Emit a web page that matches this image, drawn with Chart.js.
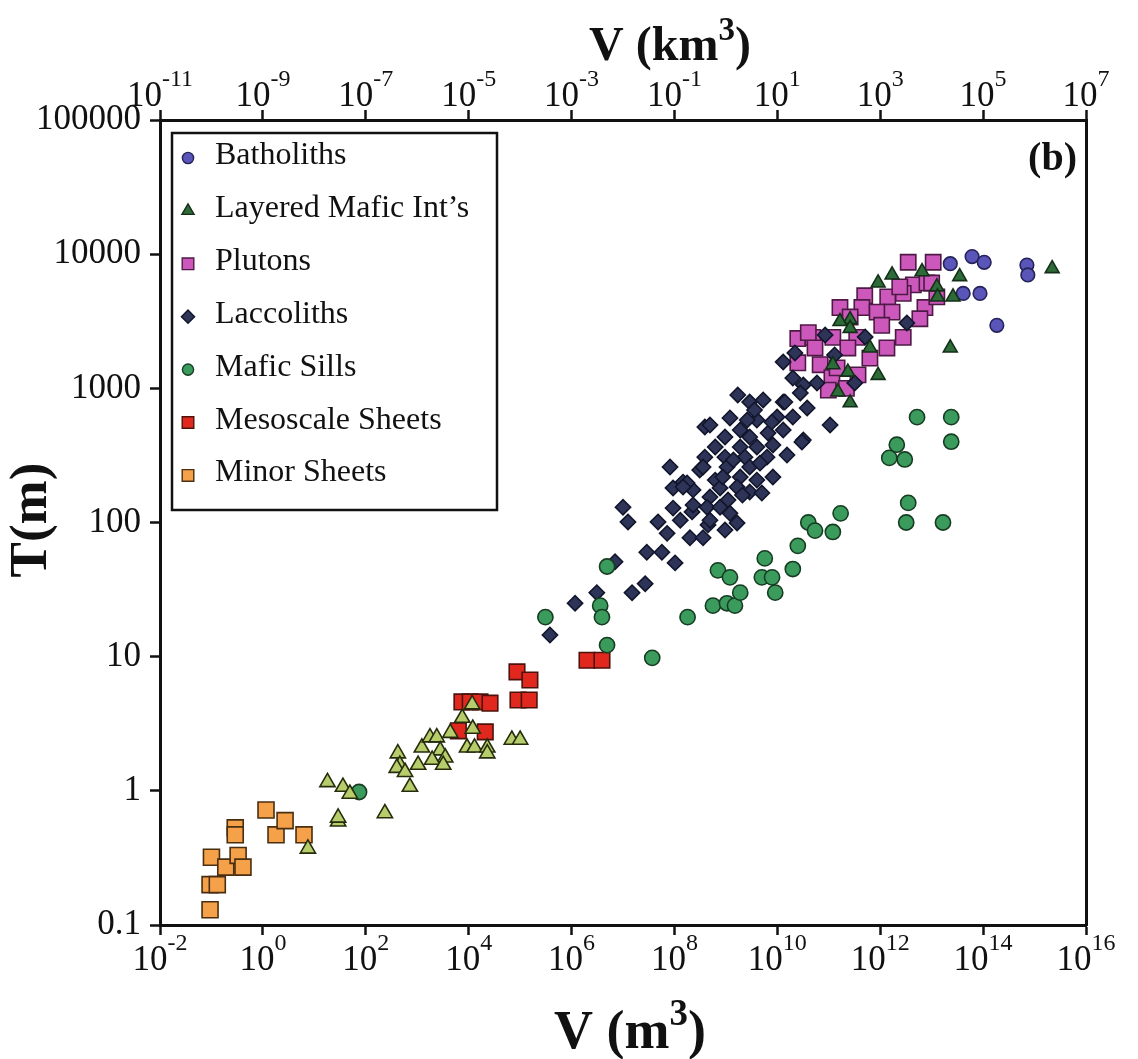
<!DOCTYPE html>
<html>
<head>
<meta charset="utf-8">
<title>T vs V</title>
<script src="https://cdn.jsdelivr.net/npm/chart.js@4.4.1/dist/chart.umd.min.js"></script>
<style>
  html, body { margin: 0; padding: 0; background: #fff; }
  #wrap { width: 1138px; height: 1059px; }
</style>
</head>
<body>
<div id="wrap"><canvas id="chart" width="1138" height="1059"></canvas></div>
<script>
const SERIF = "'Liberation Serif', 'Times New Roman', serif";

// axis ticks (powers of ten)
const bottomExps = [-2, 0, 2, 4, 6, 8, 10, 12, 14, 16];
const topExps = [-11, -9, -7, -5, -3, -1, 1, 3, 5, 7];
const yTicks = [0.1, 1, 10, 100, 1000, 10000, 100000];

// V in m^3, T in m
const batholithsV = [2.3e13, 6.1e13, 1.05e14, 7.1e14, 7.4e14, 4.1e13, 8.7e13, 1.85e14];
const batholithsT = [8500, 9600, 8700, 8300, 7000, 5100, 5100, 2950];

const layeredV = [1.7e12, 6.5e12, 3.5e13, 9.1e11, 1.26e13, 1.3e13, 2.6e13, 2.6e11, 1.65e11, 2.6e11,
                  6.3e11, 2.3e13, 1.2e11, 2.35e11, 9.1e11, 1.5e11, 2.6e11, 2.2e15];
const layeredT = [7000, 7400, 6800, 6100, 5700, 4800, 4800, 3250, 3150, 2800,
                  2000, 2000, 1500, 1320, 1250, 940, 780, 7800];

const plutonsV = [3.5e12, 1.07e13, 4.4e12, 8.1e12, 2.8e12, 5.0e11, 1.4e12, 1.65e11, 4.4e11, 8.7e11,
                  1.7e12, 7.4e12, 5.9e12, 2.6e11, 1.07e12, 2.8e12, 2.5e10, 4.9e10, 1.2e11, 3.5e11,
                  1.35e12, 5.4e10, 2.35e11, 6.3e11, 2.5e10, 6.8e10, 3.7e11, 1.15e11, 2.2e11, 9.8e10,
                  1.45e11, 4.0e10, 1.26e13, 1.0e13, 2.4e12];
const plutonsT = [8700, 8700, 5900, 6100, 5100, 4900, 4800, 4000, 4000, 3700,
                  3700, 4000, 3300, 3400, 2950, 2400, 2350, 2400, 2400, 2400,
                  2000, 2000, 2000, 1680, 1550, 1500, 1260, 1200, 1000, 970,
                  1420, 2600, 4800, 6100, 5700];

const laccolithsV = [3.8e5, 1.17e6, 3.1e6, 7.0e6, 1.5e7, 2.7e7, 2.9e7, 5.7e7, 1.03e8, 1.0e7,
                     1.25e7, 4.8e7, 7.2e7, 2.0e8, 3.6e8, 4.5e8, 1.65e9, 8.2e7, 9.4e7, 1.47e8,
                     2.3e8, 3.1e8, 9.4e7, 2.2e8, 3.9e8, 3.9e8, 1.3e10, 2.2e10, 2.0e10, 3.2e10,
                     3.8e10, 1.7e9, 2.9e9, 5.3e9, 1.3e10, 1.2e9, 4.0e9, 9.9e9, 2.0e10, 4.9e8,
                     1.9e9, 2.9e9, 6.6e9, 1.3e10, 9.6e8, 3.2e10, 6.2e8, 1.9e9, 4.0e9, 8.2e9,
                     1.54e10, 9.6e8, 2.35e9, 6.3e9, 3.6e8, 1.05e9, 2.9e9, 6.2e8, 1.9e9, 4.0e9,
                     8.2e9, 1.76e8, 7.7e8, 1.65e9, 2.9e9, 5.0e9, 4.9e8, 1.1e9, 4.3e8, 1.2e9,
                     4.9e8, 8.5e10, 1.3e11, 5.1e11, 3.3e12, 5.9e10, 3.2e11, 2.8e10, 1.4e10, 1.06e11,
                     3.0e10, 3.6e9, 7.8e9, 2.6e9, 1.4e9, 4.6e9, 1.47e8, 8.7e8, 2.1e9, 2.3e8,
                     7.7e8, 1.3e8, 9.6e8];
const laccolithsT = [14.5, 25, 30, 51, 30, 35, 60, 60, 50, 130,
                     101, 101, 83, 77, 77, 96, 99, 259, 181, 200,
                     175, 246, 128, 120, 515, 307, 1573, 1837, 1195, 1060,
                     713, 891, 791, 818, 791, 601, 581, 611, 611, 533,
                     489, 434, 464, 489, 434, 412, 365, 365, 365, 378,
                     318, 307, 307, 307, 259, 259, 259, 207, 218, 207,
                     218, 197, 181, 184, 169, 166, 155, 147, 130, 117,
                     104, 2500, 1775, 2416, 3073, 1097, 1097, 924, 791, 533,
                     398, 690, 560, 581, 292, 277, 184, 218, 160, 135,
                     130, 104, 88];

const sillsV = [74, 3.1e5, 3.6e6, 3.9e6, 4.9e6, 4.9e6, 3.7e7, 1.8e8, 5.6e8, 1.05e9,
                1.5e9, 1.9e9, 7.0e8, 1.2e9, 5.7e9, 5.0e9, 7.9e9, 9.1e9, 2.0e10, 2.5e10,
                4.0e10, 5.4e10, 1.2e11, 1.7e11, 1.5e12, 2.1e12, 3.0e12, 5.2e12, 2.4e13, 2.4e13,
                3.5e12, 3.2e12, 1.66e13];
const sillsT = [0.98, 19.7, 24, 19.7, 47, 12.2, 9.8, 19.7, 24, 25,
                24, 30, 44, 39, 54, 39, 39, 30, 45, 67,
                100, 87, 85, 117, 303, 380, 295, 610, 610, 400,
                140, 100, 100];

const mesoV = [7400, 10700, 16600, 26000, 6300, 21000, 87000, 155000, 91000, 150000, 2.0e6, 3.9e6];
const mesoT = [4.6, 4.6, 4.6, 4.5, 2.8, 2.75, 7.7, 6.7, 4.75, 4.75, 9.4, 9.4];

const minorV = [0.094, 0.094, 0.13, 0.10, 0.19, 0.33, 0.41, 0.29, 0.29, 1.15, 1.8, 2.7, 6.3];
const minorT = [0.13, 0.20, 0.20, 0.32, 0.27, 0.33, 0.27, 0.53, 0.47, 0.72, 0.47, 0.60, 0.47];

// pale triangles (not in the legend)
const paleTriV = [18, 36, 49, 29, 29, 235, 7.5, 420, 460, 400,
                  580, 720, 1230, 1770, 2400, 2800, 3500, 1040, 1950, 3200,
                  4400, 7500, 11700, 9300, 13000, 12000, 23000, 23000, 69000, 100000];
const paleTriT = [1.16, 1.07, 0.95, 0.59, 0.63, 0.68, 0.37, 1.9, 1.56, 1.48,
                  1.38, 1.07, 2.1, 2.5, 2.5, 2.0, 1.77, 1.56, 1.7, 1.56,
                  2.7, 3.5, 4.4, 2.1, 2.1, 2.9, 2.1, 1.9, 2.4, 2.4];

function pts(V, T) {
  return V.map((v, i) => ({ x: v, y: T[i] }));
}

function series(label, V, T, style, radius, fill, stroke, order, inLegend) {
  return {
    label, data: pts(V, T), order, inLegend,
    pointStyle: style, pointRadius: radius, pointHoverRadius: radius,
    pointBackgroundColor: fill, pointBorderColor: stroke, pointBorderWidth: 1.6,
    backgroundColor: fill, borderColor: stroke, showLine: false,
  };
}

// index 0..6 is the legend order; "order" controls stacking (lower = on top)
const datasets = [
  series("Batholiths", batholithsV, batholithsT, "circle", 6.8, "#5a55b8", "#25235a", 4, true),
  series("Layered Mafic Int\u2019s", layeredV, layeredT, "triangle", 8, "#2d6b38", "#142e18", 1, true),
  series("Plutons", plutonsV, plutonsT, "rect", 10.8, "#cc58bb", "#4e1a45", 5, true),
  series("Laccoliths", laccolithsV, laccolithsT, "rectRot", 7.6, "#2d3458", "#12162b", 3, true),
  series("Mafic Sills", sillsV, sillsT, "circle", 7.6, "#3b9b5d", "#163d22", 2, true),
  series("Mesoscale Sheets", mesoV, mesoT, "rect", 11, "#e0281e", "#4e120d", 6, true),
  series("Minor Sheets", minorV, minorT, "rect", 11.3, "#f4a14a", "#4a2e10", 7, true),
  series("Sheets (triangles)", paleTriV, paleTriT, "triangle", 8.8, "#b7cd6c", "#262d0c", 0, false),
];

function drawMarker(ctx, style, x, y, r) {
  ctx.beginPath();
  if (style === "circle") {
    ctx.arc(x, y, r, 0, Math.PI * 2);
  } else if (style === "triangle") {
    ctx.moveTo(x, y - r);
    ctx.lineTo(x + r * 0.866, y + r * 0.5);
    ctx.lineTo(x - r * 0.866, y + r * 0.5);
    ctx.closePath();
  } else if (style === "rect") {
    const s = r * Math.SQRT1_2;
    ctx.rect(x - s, y - s, 2 * s, 2 * s);
  } else {
    ctx.moveTo(x - r, y); ctx.lineTo(x, y - r); ctx.lineTo(x + r, y); ctx.lineTo(x, y + r);
    ctx.closePath();
  }
  ctx.fill();
  ctx.stroke();
}

// "10" with a raised exponent, centred on px
function powerLabel(ctx, px, baseY, exp, baseSize, expSize, lift) {
  const e = String(exp);
  ctx.font = baseSize + "px " + SERIF;
  const wb = ctx.measureText("10").width;
  ctx.font = expSize + "px " + SERIF;
  const we = ctx.measureText(e).width;
  const x0 = px - (wb + we) / 2;
  ctx.textAlign = "left";
  ctx.textBaseline = "alphabetic";
  ctx.font = baseSize + "px " + SERIF;
  ctx.fillText("10", x0, baseY);
  ctx.font = expSize + "px " + SERIF;
  ctx.fillText(e, x0 + wb, baseY - lift);
}

// bold "V (unit" + sup 3 + ")" centred on cx
function unitTitle(ctx, cx, baseY, head, size) {
  const big = "bold " + size + "px " + SERIF;
  const sup = "bold " + Math.round(size * 0.68) + "px " + SERIF;
  ctx.font = big; const w1 = ctx.measureText(head).width;
  ctx.font = sup; const w2 = ctx.measureText("3").width;
  ctx.font = big; const w3 = ctx.measureText(")").width;
  let x = cx - (w1 + w2 + w3) / 2;
  ctx.textAlign = "left";
  ctx.textBaseline = "alphabetic";
  ctx.font = big; ctx.fillText(head, x, baseY); x += w1;
  ctx.font = sup; ctx.fillText("3", x, baseY - size * 0.42); x += w2;
  ctx.font = big; ctx.fillText(")", x, baseY);
}

const decorations = {
  id: "decorations",
  afterDraw(chart) {
    const ctx = chart.ctx;
    const sx = chart.scales.x, sx2 = chart.scales.x2;
    ctx.save();
    ctx.fillStyle = "#111";

    bottomExps.forEach(e => powerLabel(ctx, sx.getPixelForValue(Math.pow(10, e)), 970, e, 35, 24, 20));
    topExps.forEach(e => powerLabel(ctx, sx2.getPixelForValue(Math.pow(10, e)), 106, e, 35, 24, 20));

    unitTitle(ctx, 630, 1048, "V (m", 54);
    unitTitle(ctx, 670, 60, "V (km", 48);

    // y title
    ctx.save();
    ctx.translate(46, 520);
    ctx.rotate(-Math.PI / 2);
    ctx.textAlign = "center";
    ctx.textBaseline = "alphabetic";
    ctx.font = "bold 53px " + SERIF;
    ctx.fillText("T(m)", 0, 0);
    ctx.restore();

    // panel tag
    ctx.font = "bold 40px " + SERIF;
    ctx.textAlign = "right";
    ctx.fillText("(b)", 1077, 170);

    // legend
    ctx.fillStyle = "#fff";
    ctx.fillRect(172, 133, 325, 377);
    ctx.strokeStyle = "#111";
    ctx.lineWidth = 2.5;
    ctx.strokeRect(172, 133, 325, 377);
    const legendR = { circle: 5.6, triangle: 7, rect: 8.2, rectRot: 6.6 };
    let row = 0;
    chart.data.datasets.forEach(ds => {
      if (!ds.inLegend) return;
      const base = 164 + row * 52.9;
      ctx.fillStyle = ds.pointBackgroundColor;
      ctx.strokeStyle = ds.pointBorderColor;
      ctx.lineWidth = 1.4;
      drawMarker(ctx, ds.pointStyle, 188, base - 6, legendR[ds.pointStyle]);
      ctx.fillStyle = "#111";
      ctx.font = "32px " + SERIF;
      ctx.textAlign = "left";
      ctx.textBaseline = "alphabetic";
      ctx.fillText(ds.label, 215, base);
      row++;
    });
    ctx.restore();
  }
};

const axisLine = { display: true, color: "#111", width: 3 };
const tickMarks = { drawOnChartArea: false, drawTicks: true, tickLength: 10, tickWidth: 2.5, tickColor: "#111" };

new Chart(document.getElementById("chart"), {
  type: "scatter",
  data: { datasets },
  options: {
    responsive: false,
    animation: false,
    events: [],
    layout: { padding: 0 },
    plugins: { legend: { display: false }, tooltip: { enabled: false } },
    scales: {
      x: {
        type: "logarithmic", position: "bottom", min: 1e-2, max: 1e16,
        afterBuildTicks: s => { s.ticks = bottomExps.map(e => ({ value: Math.pow(10, e) })); },
        afterFit: s => { s.height = 134; },
        ticks: { display: false },
        grid: tickMarks, border: axisLine,
      },
      x2: {
        type: "logarithmic", position: "top", min: 1e-11, max: 1e7,
        afterBuildTicks: s => { s.ticks = topExps.map(e => ({ value: Math.pow(10, e) })); },
        afterFit: s => { s.height = 120; },
        ticks: { display: false },
        grid: tickMarks, border: axisLine,
      },
      y: {
        type: "logarithmic", position: "left", min: 0.1, max: 1e5,
        afterBuildTicks: s => { s.ticks = yTicks.map(v => ({ value: v })); },
        afterFit: s => { s.width = 160; },
        ticks: { display: true, color: "#111", padding: 9, font: { family: SERIF, size: 35 },
                 callback: v => String(v) },
        grid: tickMarks, border: axisLine,
      },
      y2: {
        type: "linear", position: "right", min: 0, max: 1,
        afterFit: s => { s.width = 52; },
        ticks: { display: false },
        grid: { display: false }, border: axisLine,
      },
    },
  },
  plugins: [decorations],
});
</script>
</body>
</html>
